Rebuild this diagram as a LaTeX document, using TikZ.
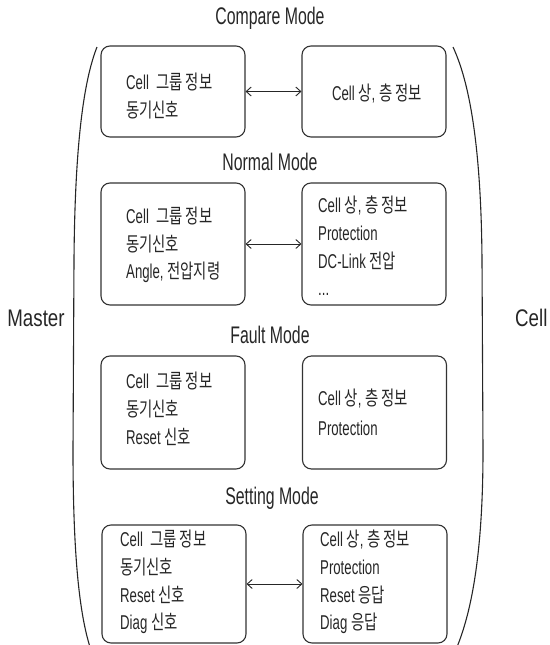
\documentclass[tikz,border=0pt]{standalone}
\usepackage{fontspec}
\setmainfont{Liberation Sans}[FakeStretch=0.66]
\newfontfamily\kr{Noto Sans CJK KR}[FakeStretch=0.72]
\newfontfamily\sidefont{Liberation Sans}[FakeStretch=0.78]
\usetikzlibrary{arrows.meta}
\tikzset{
  box/.style={draw=black!80, line width=1.1pt, rounded corners=9pt, minimum width=144pt, inner sep=0pt},
  txt/.style={anchor=west, align=left, inner sep=0pt, text=black!85, font=\fontsize{20}{27.8}\selectfont},
  ctxt/.style={align=center, inner sep=0pt, text=black!85, font=\fontsize{20}{27.8}\selectfont},
  title/.style={inner sep=0pt, text=black!85, font=\fontsize{24}{28}\selectfont},
  side/.style={inner sep=0pt, text=black!85, font=\fontsize{24}{28}\selectfont\sidefont},
  arr/.style={{Straight Barb[length=5pt,width=9pt]}-{Straight Barb[length=5pt,width=9pt]}, line width=0.9pt, black!85},
  paren/.style={line width=1.1pt, black!85}
}
\begin{document}
\begin{tikzpicture}[x=1pt,y=-1pt]
\useasboundingbox (0,0) rectangle (549,645);
% brackets
\draw[paren] (97,47) .. controls (86,75) and (75,130) .. (74,260) -- (73,450) .. controls (73,560) and (80,615) .. (90,647);
\draw[paren] (453,47) .. controls (466,75) and (481,130) .. (482,260) -- (483,450) .. controls (483,560) and (470,615) .. (457,647);
\node[side] (master) at (36,318) {Master};
\node[side, anchor=west] (cell) at (515,318) {Cell};
% Compare mode
\node[title] (tc) at (270,18) {Compare Mode};
\node[box, minimum height=91pt] (cl) at (173,91.5) {};
\node[box, minimum height=91pt] (cr) at (374,91.5) {};
\draw[arr] (cl.east) -- (cr.west);
\node[txt] (clt) at (126,96) {Cell\ \ {\kr 그룹 정보}\\{\kr 동기신호}};
\node[ctxt] (crt) at (377,93) {Cell {\kr 상}, {\kr 층 정보}};
% Normal mode
\node[title] (tn) at (270,162) {Normal Mode};
\node[box, minimum height=122pt] (nl) at (173,244) {};
\node[box, minimum height=122pt] (nr) at (374,244) {};
\draw[arr] (nl.east) -- (nr.west);
\node[txt] (nlt) at (126,245) {Cell\ \ {\kr 그룹 정보}\\{\kr 동기신호}\\Angle, {\kr 전압지령}};
\node[txt] (nrt) at (318,246) {Cell {\kr 상}, {\kr 층 정보}\\Protection\\DC-Link {\kr 전압}\\...};
% Fault mode
\node[title] (tf) at (270,335) {Fault Mode};
\node[box, minimum height=113pt] (fl) at (173,412.5) {};
\node[box, minimum height=113pt] (fr) at (374.5,412.5) {};
\node[txt] (flt) at (126,409) {Cell\ \ {\kr 그룹 정보}\\{\kr 동기신호}\\Reset {\kr 신호}};
\node[txt] (frt) at (318,412) {Cell {\kr 상}, {\kr 층 정보}\\[2pt]Protection};
% Setting mode
\node[title] (ts) at (272,498) {Setting Mode};
\node[box, minimum height=118pt] (sl) at (174,584) {};
\node[box, minimum height=118pt] (sr) at (375,584) {};
\draw[arr] (sl.east) -- (sr.west);
\node[txt] (slt) at (120,582) {Cell\ \ {\kr 그룹 정보}\\{\kr 동기신호}\\Reset {\kr 신호}\\Diag {\kr 신호}};
\node[txt] (srt) at (320,582) {Cell {\kr 상}, {\kr 층 정보}\\Protection\\Reset {\kr 응답}\\Diag {\kr 응답}};
\end{tikzpicture}
\end{document}
